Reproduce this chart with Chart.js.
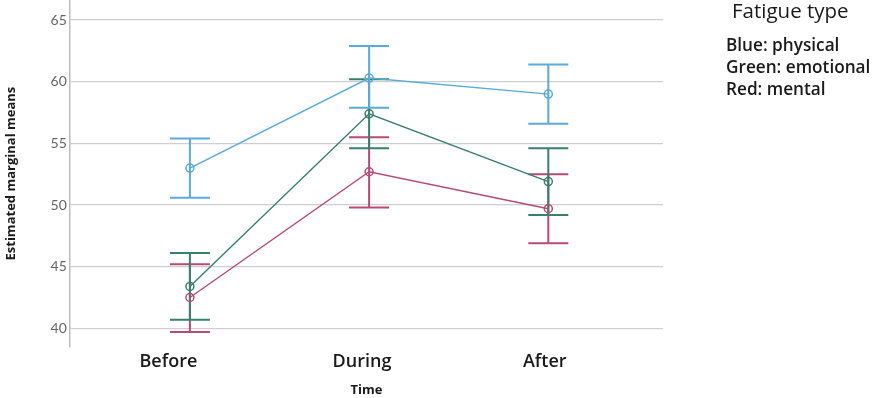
<!DOCTYPE html>
<html>
<head>
<meta charset="utf-8">
<script src="https://cdn.jsdelivr.net/npm/chart.js@4/dist/chart.umd.min.js"></script>
<style>
  html, body { margin: 0; padding: 0; background: #fff; overflow: hidden; }
  #wrap { position: relative; width: 872px; height: 398px; overflow: hidden; }
  #chart { position: absolute; left: 0; top: -11px; }
  #legend { position: absolute; left: 726px; top: 0; font-family: "Open Sans", sans-serif; color: #1a1a1a; }
  #legend .ttl { position: absolute; left: 6px; top: -4px; font-size: 20.5px; font-weight: 500; white-space: nowrap; }
  #legend .row { position: absolute; left: 0; font-size: 17.2px; font-weight: 600; white-space: nowrap; }
</style>
</head>
<body>
<div id="wrap">
  <canvas id="chart" width="872" height="409"></canvas>
  <div id="legend">
    <div class="ttl">Fatigue type</div>
    <div class="row" style="top:33px">Blue: physical</div>
    <div class="row" style="top:55px">Green: emotional</div>
    <div class="row" style="top:77px">Red: mental</div>
  </div>
</div>
<script>
// time points
const timeLabels = ["Before", "During", "After"];

// estimated marginal means + 95% CI per fatigue type
const physicalMean = [53.0, 60.3, 59.0];
const physicalLow = [50.6, 57.9, 56.6];
const physicalHigh = [55.4, 62.9, 61.4];

const emotionalMean = [43.4, 57.4, 51.9];
const emotionalLow = [40.7, 54.6, 49.2];
const emotionalHigh = [46.1, 60.2, 54.6];

const mentalMean = [42.5, 52.7, 49.7];
const mentalLow = [39.7, 49.8, 46.9];
const mentalHigh = [45.2, 55.5, 52.5];

const yTicks = [40, 45, 50, 55, 60, 65];

// labels in the original sit a bit left of the points
const labelNudge = [-0.12, -0.04, -0.02];

function series(label, color, mean, low, high) {
  return {
    label: label,
    data: mean.map((m, i) => ({ x: i, y: m })),
    low: low,
    high: high,
    borderColor: color,
    backgroundColor: "transparent",
    borderWidth: 1.4,
    pointRadius: 4,
    pointBorderWidth: 1.5,
    pointBackgroundColor: "transparent",
    pointBorderColor: color,
    tension: 0,
  };
}

// error bars drawn from low/high arrays via the scales
const errorBars = {
  id: "errorBars",
  beforeDatasetsDraw(chart) {
    const { ctx, scales } = chart;
    const xs = scales.x, ys = scales.y;
    chart.data.datasets.forEach((ds) => {
      ctx.save();
      ctx.strokeStyle = ds.borderColor;
      ctx.lineWidth = 2;
      ds.data.forEach((p, i) => {
        const x = xs.getPixelForValue(p.x);
        const y1 = ys.getPixelForValue(ds.low[i]);
        const y2 = ys.getPixelForValue(ds.high[i]);
        const w = 20;
        ctx.beginPath();
        ctx.moveTo(x, y1); ctx.lineTo(x, y2);
        ctx.moveTo(x - w, y1); ctx.lineTo(x + w, y1);
        ctx.moveTo(x - w, y2); ctx.lineTo(x + w, y2);
        ctx.stroke();
      });
      ctx.restore();
    });
  },
};

new Chart(document.getElementById("chart"), {
  type: "line",
  data: {
    datasets: [
      series("Red: mental", "#b84a78", mentalMean, mentalLow, mentalHigh),
      series("Green: emotional", "#37806f", emotionalMean, emotionalLow, emotionalHigh),
      series("Blue: physical", "#5aaadc", physicalMean, physicalLow, physicalHigh),
    ],
  },
  plugins: [errorBars],
  options: {
    responsive: false,
    animation: false,
    layout: { padding: { left: 3, right: 209, top: 0, bottom: 0 } },
    plugins: { legend: { display: false }, tooltip: { enabled: false } },
    scales: {
      x: {
        type: "linear",
        min: -0.67,
        max: 2.64,
        afterBuildTicks: (scale) => {
          scale.ticks = timeLabels.map((_, i) => ({ value: i + labelNudge[i] }));
        },
        ticks: {
          callback: (v, i) => timeLabels[i],
          color: "#1a1a1a",
          font: { family: "Open Sans", size: 18, weight: "600" },
          padding: 4,
          maxRotation: 0,
        },
        grid: { display: false, drawTicks: false },
        border: { display: false },
        title: {
          display: true,
          text: "Time",
          color: "#1a1a1a",
          font: { family: "Open Sans", size: 13, weight: "bold" },
          padding: { top: 6, bottom: 0 },
        },
      },
      y: {
        min: 38.5,
        max: 66.6,
        afterBuildTicks: (scale) => {
          scale.ticks = yTicks.map((v) => ({ value: v }));
        },
        ticks: {
          color: "#666",
          font: { family: "Lato", size: 14 },
          padding: 3,
        },
        grid: { color: "#cfcfcf", lineWidth: 1.3, drawTicks: false },
        border: { display: true, color: "#bdbdbd", width: 1.5 },
        title: {
          display: true,
          text: "Estimated marginal means",
          color: "#1a1a1a",
          font: { family: "Open Sans", size: 13, weight: "bold" },
          padding: { top: 0, bottom: 29 },
        },
      },
    },
  },
});
</script>
</body>
</html>
